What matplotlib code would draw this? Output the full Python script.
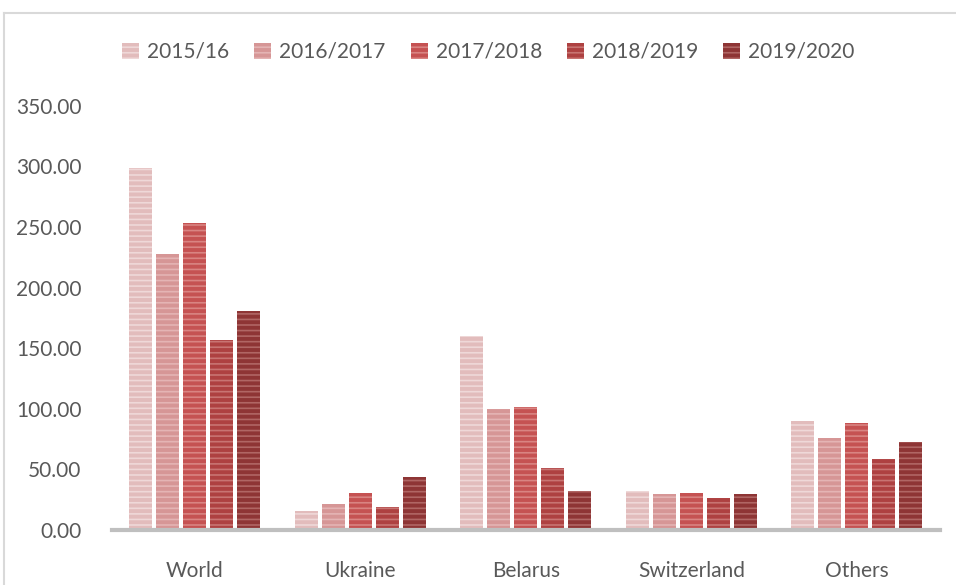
import numpy as np
import matplotlib
matplotlib.use("Agg")
from matplotlib import pyplot as plt
from matplotlib.lines import Line2D

# data
regions = ['World', 'Ukraine', 'Belarus', 'Switzerland', 'Others']
seasons = ['2015/16', '2016/2017', '2017/2018', '2018/2019', '2019/2020']
v1516 = [299.0, 15.7, 160.0, 32.0, 90.0]
v1617 = [228.0, 21.5, 100.0, 29.7, 76.0]
v1718 = [253.0, 30.5, 101.5, 30.5, 88.3]
v1819 = [157.0, 19.0, 51.0, 26.4, 58.6]
v1920 = [181.0, 43.8, 32.0, 29.7, 72.6]
values = [v1516, v1617, v1718, v1819, v1920]

colors = ['#e2bcbc', '#d69696', '#c55252', '#ae4141', '#8e3535']
stripes = ['#efd8d8', '#e4b4b4', '#d98482', '#c87472', '#b06664']

plt.rcParams['font.family'] = ['Lato', 'DejaVu Sans']
plt.rcParams['hatch.linewidth'] = 1.2

fig = plt.figure(figsize=(9.56, 5.85), dpi=100)
ax = fig.add_axes([0.117, 0.094, 0.866, 0.725])

x = np.arange(len(regions))
w = 0.139
step = 0.163
for i, vals in enumerate(values):
    pos = x + (i - 2) * step
    ax.bar(pos, vals, width=w, color=colors[i], edgecolor=stripes[i],
           linewidth=0, hatch='---', label=seasons[i])

ax.set_xlim(-0.5, len(regions) - 0.5)
ax.set_ylim(0, 350)
ax.set_yticks(np.arange(0, 351, 50))
ax.set_yticklabels(['%.2f' % t for t in np.arange(0, 351, 50)])
ax.set_xticks(x)
ax.set_xticklabels(regions)
ax.tick_params(length=0, labelsize=15, labelcolor='#595959')
ax.tick_params(axis='x', pad=22)
ax.tick_params(axis='y', pad=22)
for s in ['top', 'right', 'left']:
    ax.spines[s].set_visible(False)
ax.spines['bottom'].set_color('#bfbfbf')
ax.spines['bottom'].set_linewidth(3)

leg = ax.legend(loc='upper center', bbox_to_anchor=(0.455, 1.195), ncol=5,
                frameon=False, fontsize=15, handlelength=0.8, handleheight=0.8,
                columnspacing=1.2, handletextpad=0.4)
for t in leg.get_texts():
    t.set_color('#595959')

# chart area border (top and left only visible)
fig.add_artist(Line2D([0.004, 1.0], [0.978, 0.978], color='#d9d9d9', lw=1.5))
fig.add_artist(Line2D([0.004, 0.004], [0.0, 0.978], color='#d9d9d9', lw=1.5))

fig.savefig('out.png', dpi=100)
